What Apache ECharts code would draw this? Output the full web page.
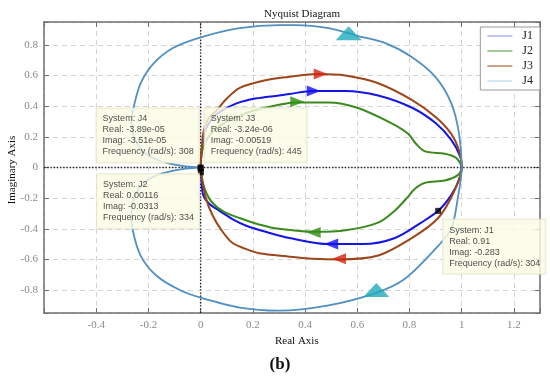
<!DOCTYPE html>
<html><head><meta charset="utf-8">
<script src="https://cdn.jsdelivr.net/npm/echarts@6/dist/echarts.min.js"></script>
<style>html,body{margin:0;padding:0;background:#fff}#c{width:550px;height:378px}</style>
</head><body><div id="c"></div>
<script>
// ---------- data ----------
const seriesNames = ['J1', 'J2', 'J3', 'J4'];

// closed Nyquist loops: origin -> lower branch -> (1,0) -> upper branch -> origin
const j1Re = [0, 0.003, 0.01, 0.035, 0.07, 0.12, 0.175, 0.25, 0.34, 0.49, 0.62, 0.745, 0.845, 0.91, 0.96, 0.99, 1,
              0.995, 0.96, 0.9, 0.81, 0.68, 0.555, 0.43, 0.34, 0.3, 0.21, 0.14, 0.08, 0.05, 0.02, 0.005, 0];
const j1Im = [0, -0.08, -0.18, -0.24, -0.28, -0.335, -0.38, -0.42, -0.46, -0.50, -0.50, -0.46, -0.36, -0.283, -0.18, -0.08, 0,
              0.07, 0.18, 0.29, 0.39, 0.47, 0.50, 0.50, 0.48, 0.47, 0.45, 0.42, 0.37, 0.33, 0.25, 0.12, 0];

const j2Re = [0, 0.005, 0.02, 0.045, 0.09, 0.15, 0.22, 0.30, 0.44, 0.555, 0.68, 0.745, 0.795, 0.82, 0.86, 0.935, 0.985, 1,
              0.977, 0.935, 0.86, 0.825, 0.795, 0.73, 0.60, 0.49, 0.36, 0.30, 0.2, 0.14, 0.08, 0.03, 0.005, 0];
const j2Im = [0, -0.07, -0.16, -0.23, -0.29, -0.33, -0.37, -0.40, -0.42, -0.41, -0.36, -0.28, -0.19, -0.14, -0.10, -0.085, -0.05, 0,
              0.065, 0.09, 0.105, 0.155, 0.22, 0.29, 0.39, 0.425, 0.425, 0.41, 0.37, 0.33, 0.28, 0.2, 0.1, 0];

const j3Re = [0, 0.005, 0.02, 0.045, 0.08, 0.12, 0.17, 0.225, 0.33, 0.43, 0.53, 0.68, 0.81, 0.91, 0.97, 1,
              0.99, 0.96, 0.9, 0.81, 0.68, 0.555, 0.45, 0.33, 0.25, 0.15, 0.1, 0.06, 0.03, 0.015, 0.008, 0.003, 0];
const j3Im = [0, -0.07, -0.2, -0.31, -0.41, -0.49, -0.53, -0.56, -0.58, -0.595, -0.6, -0.575, -0.46, -0.33, -0.16, 0,
              0.11, 0.22, 0.33, 0.44, 0.55, 0.60, 0.61, 0.59, 0.57, 0.52, 0.45, 0.37, 0.32, 0.26, 0.2, 0.1, 0];

const j4Re = [0, -0.07, -0.15, -0.21, -0.25, -0.265, -0.26, -0.23, -0.17, -0.08, 0, 0.15, 0.30, 0.49, 0.67, 0.78, 0.90, 0.96, 0.985, 1,
              0.99, 0.96, 0.90, 0.81, 0.71, 0.60, 0.49, 0.365, 0.30, 0.15, 0.0, -0.106, -0.18, -0.23, -0.255, -0.265, -0.25, -0.21, -0.15, -0.07, 0];
const j4Im = [0, -0.01, -0.04, -0.09, -0.18, -0.3, -0.41, -0.575, -0.705, -0.80, -0.85, -0.915, -0.935, -0.90, -0.82, -0.73, -0.53, -0.40, -0.2, 0,
              0.22, 0.42, 0.59, 0.72, 0.81, 0.86, 0.91, 0.93, 0.93, 0.91, 0.85, 0.78, 0.68, 0.55, 0.405, 0.3, 0.18, 0.09, 0.04, 0.01, 0];

// direction arrows (positions on each curve)
const j1ArrowRe = [0.433, 0.50];  const j1ArrowIm = [0.50, -0.50];
const j2ArrowRe = [0.37, 0.433];  const j2ArrowIm = [0.43, -0.425];
const j3ArrowRe = [0.46, 0.53];   const j3ArrowIm = [0.61, -0.595];
const j4ArrowRe = [0.567, 0.673]; const j4ArrowIm = [0.876, -0.80];

// data tips
const tipSystem = ['J4', 'J3', 'J2', 'J1'];
const tipReal   = ['-3.89e-05', '-3.24e-06', '0.00116', '0.91'];
const tipImag   = ['-3.51e-05', '-0.00519', '-0.0313', '-0.283'];
const tipFreq   = ['308', '445', '334', '304'];

// tick labels
const xTickLabels = ['-0.4', '-0.2', '0', '0.2', '0.4', '0.6', '0.8', '1', '1.2'];
const yTickLabels = ['-0.8', '-0.6', '-0.4', '-0.2', '0', '0.2', '0.4', '0.6', '0.8'];

// ---------- styling ----------
const lineColors   = ['#1414e6', '#3b8a1d', '#9c4619', '#5190c3'];
const arrowColors  = ['#1010f0', '#2e8c12', '#d42410', '#22aabb'];
const legendColors = ['#9a9af0', '#6aa456', '#b0603c', '#b6dcea'];
const serif = "'Liberation Serif', 'DejaVu Serif', serif";
const sans  = "'Liberation Sans', Arial, sans-serif";

const pairs = (re, im) => re.map((r, i) => [r, im[i]]);
const fmtTick = list => v => {
  const s = String(Math.round(v * 10) / 10);
  return (list.indexOf(s) >= 0 && Math.abs(v * 10 - Math.round(v * 10)) < 1e-6) ? s : '';
};

const curves = [pairs(j1Re, j1Im), pairs(j2Re, j2Im), pairs(j3Re, j3Im), pairs(j4Re, j4Im)];
const arrows = [pairs(j1ArrowRe, j1ArrowIm), pairs(j2ArrowRe, j2ArrowIm), pairs(j3ArrowRe, j3ArrowIm), pairs(j4ArrowRe, j4ArrowIm)];

const X_MIN = -0.6, X_MAX = 1.3, Y_MIN = -0.95, Y_MAX = 0.95;

const series = [];
// zero lines (dotted)
series.push({type: 'line', data: [[0, Y_MIN], [0, Y_MAX]], symbol: 'none', silent: true, z: 1,
  lineStyle: {color: '#222', width: 1.4, type: [1.4, 1.8]}});
series.push({type: 'line', data: [[X_MIN, 0], [X_MAX, 0]], symbol: 'none', silent: true, z: 1,
  lineStyle: {color: '#222', width: 1.4, type: [1.4, 1.8]}});

curves.forEach((d, i) => {
  series.push({name: seriesNames[i], type: 'line', data: d, symbol: 'none', smooth: 0.3, z: 3,
    lineStyle: {width: i === 3 ? 1.8 : 2, color: lineColors[i]}, itemStyle: {color: lineColors[i]}});
});
arrows.forEach((d, i) => {
  series.push({name: seriesNames[i] + ' arrows', type: 'scatter', z: 5, silent: true,
    data: d.map(p => ({
      value: p,
      symbolRotate: i === 3 ? 0 : (p[1] > 0 ? -90 : 90),
      symbolSize: i === 3 ? [26, 14] : [11, 14]
    })),
    symbol: 'triangle', itemStyle: {color: arrowColors[i]}});
});

// datatip placement (label box top-left/bottom-left relative to marker)
const tipPlace = [
  {position: [-101, -2], verticalAlign: 'bottom'},
  {position: [7, -3],    verticalAlign: 'bottom'},
  {position: [-101, 5],  verticalAlign: 'top'},
  {position: [8, 12],    verticalAlign: 'top'}
];
series.push({name: 'tips', type: 'scatter', z: 10, silent: true, symbol: 'rect', symbolSize: 6,
  itemStyle: {color: '#000'},
  data: tipSystem.map((s, i) => ({
    value: [parseFloat(tipReal[i]), parseFloat(tipImag[i])],
    label: Object.assign({
      show: true, align: 'left',
      formatter: 'System: ' + s + '\nReal: ' + tipReal[i] + '\nImag: ' + tipImag[i] + '\nFrequency (rad/s): ' + tipFreq[i],
      fontFamily: sans, fontSize: 9, lineHeight: 11, color: '#1a1a1a',
      backgroundColor: '#fbfbe6', borderColor: '#e4e4c8', borderWidth: 1,
      padding: [5, 5, 5, 6]
    }, tipPlace[i])
  }))
});

const axisLineStyle = {color: '#6f6f6f', width: 1.5};
const tickStyle = {show: true, inside: true, length: 5, lineStyle: {color: '#6f6f6f', width: 1}};
const splitStyle = {show: true, lineStyle: {color: '#d4d4d4', width: 1, type: [5, 4]}};

const option = {
  animation: false,
  backgroundColor: '#fff',
  title: {text: 'Nyquist Diagram', left: 297, top: 4, textAlign: 'center',
    textStyle: {fontFamily: serif, fontSize: 11, fontWeight: 'normal', color: '#111'}},
  legend: {
    data: seriesNames.map((n, i) => ({name: n, icon: 'rect', itemStyle: {color: legendColors[i]}})),
    orient: 'vertical', right: 10, top: 27, itemWidth: 25, itemHeight: 1.2, itemGap: 3,
    padding: [3, 7, 3, 7], borderColor: '#9a9a9a', borderWidth: 1, backgroundColor: '#fff',
    textStyle: {fontFamily: serif, fontSize: 12, lineHeight: 12, color: '#222', padding: [0, 0, 0, 5]}
  },
  grid: {left: 44, right: 10, top: 22, bottom: 65},
  xAxis: [
    {type: 'value', min: X_MIN, max: X_MAX, minInterval: 0.2, maxInterval: 0.2, splitNumber: 10,
      axisLine: {show: true, onZero: false, lineStyle: axisLineStyle}, axisTick: tickStyle, splitLine: splitStyle,
      axisLabel: {formatter: fmtTick(xTickLabels), fontFamily: serif, fontSize: 11, color: '#8a8a8a', margin: 7}},
    {type: 'value', position: 'top', min: X_MIN, max: X_MAX, minInterval: 0.2, maxInterval: 0.2, splitNumber: 10,
      axisLine: {show: true, onZero: false, lineStyle: axisLineStyle}, axisTick: tickStyle, splitLine: {show: false},
      axisLabel: {show: false}}
  ],
  yAxis: [
    {type: 'value', min: Y_MIN, max: Y_MAX, minInterval: 0.2, maxInterval: 0.2, splitNumber: 10,
      axisLine: {show: true, onZero: false, lineStyle: axisLineStyle}, axisTick: tickStyle, splitLine: splitStyle,
      axisLabel: {formatter: fmtTick(yTickLabels), fontFamily: serif, fontSize: 11, color: '#8a8a8a', margin: 6}},
    {type: 'value', position: 'right', min: Y_MIN, max: Y_MAX, minInterval: 0.2, maxInterval: 0.2, splitNumber: 10,
      axisLine: {show: true, onZero: false, lineStyle: axisLineStyle}, axisTick: tickStyle, splitLine: {show: false},
      axisLabel: {show: false}}
  ],
  graphic: [
    {type: 'text', left: 275, top: 336, style: {text: 'Real Axis', fontFamily: serif, fontSize: 11, fill: '#111'}},
    {type: 'text', x: 12, y: 170, rotation: Math.PI / 2,
      style: {text: 'Imaginary Axis', fontFamily: serif, fontSize: 11, fill: '#111', align: 'center', verticalAlign: 'middle'}},
    {type: 'text', x: 280, y: 365, style: {text: '(b)', fontFamily: serif, fontSize: 17, fontWeight: 'bold', fill: '#111', align: 'center', verticalAlign: 'middle'}}
  ],
  series: series
};
echarts.init(document.getElementById('c')).setOption(option);
</script></body></html>
